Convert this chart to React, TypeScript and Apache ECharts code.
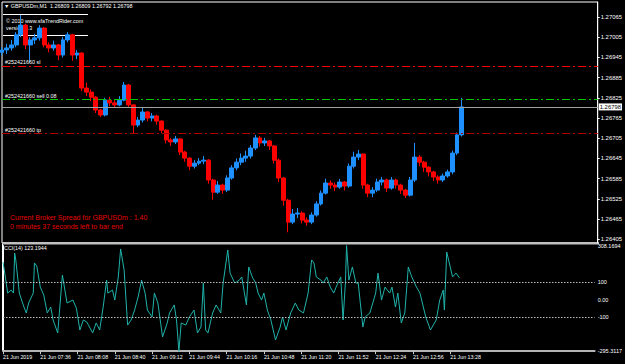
import React, { useEffect, useRef } from "react";
import * as echarts from "echarts";

// ---- data (4-minute bars from 21 Jun 07:04, GBPUSDm) ----
const firstOpen = 1.2696;
const closes = [
  1.26967, 1.26973, 1.26982, 1.27012, 1.27041, 1.26982, 1.26997, 1.27003, 1.27032, 1.26982,
  1.26973, 1.26982, 1.26952, 1.26997, 1.27012, 1.26952, 1.26958, 1.26854, 1.26842, 1.26827,
  1.26789, 1.26774, 1.26818, 1.2681, 1.26804, 1.26818, 1.26863, 1.26804, 1.26744, 1.26759,
  1.26783, 1.26765, 1.26771, 1.26756, 1.26729, 1.267, 1.26694, 1.26703, 1.26664, 1.26646,
  1.26622, 1.26631, 1.26637, 1.2664, 1.26581, 1.26545, 1.26566, 1.26551, 1.26587, 1.26617,
  1.26634, 1.26646, 1.26652, 1.26676, 1.26706, 1.26691, 1.26697, 1.26682, 1.2664, 1.26587,
  1.26521, 1.26456, 1.2648, 1.26483, 1.26462, 1.26456, 1.26477, 1.2651, 1.26542, 1.26572,
  1.26566, 1.2656, 1.26575, 1.26563, 1.26622, 1.26649, 1.26658, 1.26566, 1.26542, 1.26551,
  1.26575, 1.26581, 1.26557, 1.26581, 1.26566, 1.26551, 1.26536, 1.26581, 1.26649, 1.26634,
  1.26619, 1.26605, 1.2659, 1.26581, 1.26593, 1.26605, 1.26661, 1.26715, 1.26798,
];
const highs = [
  1.26975, 1.26985, 1.26997, 1.2702, 1.27071, 1.27045, 1.27005, 1.27015, 1.27041, 1.27035,
  1.2699, 1.26995, 1.26985, 1.27005, 1.2702, 1.27015, 1.26967, 1.2696, 1.2687, 1.2685,
  1.2683, 1.26792, 1.26825, 1.26828, 1.2682, 1.2683, 1.26872, 1.26866, 1.26806, 1.26768,
  1.26795, 1.26786, 1.2678, 1.26775, 1.26758, 1.26732, 1.26706, 1.26712, 1.26705, 1.26668,
  1.26648, 1.2664, 1.26646, 1.26652, 1.26643, 1.26585, 1.26578, 1.2657, 1.26595, 1.26625,
  1.26645, 1.2666, 1.26668, 1.26685, 1.26715, 1.26712, 1.26706, 1.267, 1.26685, 1.26645,
  1.2659, 1.26525, 1.26495, 1.26498, 1.26488, 1.2647, 1.26485, 1.26518, 1.2655, 1.26585,
  1.2658, 1.26574, 1.26584, 1.26578, 1.2663, 1.26665, 1.2667, 1.2666, 1.2657, 1.2656,
  1.26585, 1.2659, 1.26585, 1.2659, 1.26585, 1.2657, 1.26555, 1.2659, 1.26691, 1.26655,
  1.26638, 1.26622, 1.26608, 1.26595, 1.266, 1.26612, 1.26668, 1.26722, 1.26825,
];
const lows = [
  1.2695, 1.26955, 1.26965, 1.26975, 1.27005, 1.2697, 1.2693, 1.26985, 1.26995, 1.26975,
  1.2696, 1.26965, 1.26937, 1.26945, 1.2699, 1.26935, 1.2694, 1.26845, 1.2683, 1.26815,
  1.2678, 1.26768, 1.2677, 1.268, 1.26795, 1.268, 1.26815, 1.26798, 1.2672, 1.26738,
  1.26752, 1.26755, 1.26755, 1.26745, 1.2672, 1.2669, 1.26682, 1.26688, 1.26655, 1.26635,
  1.2661, 1.26615, 1.26625, 1.26628, 1.2657, 1.26522, 1.2654, 1.2654, 1.26545, 1.26582,
  1.2661, 1.26625, 1.26635, 1.26645, 1.2667, 1.2668, 1.26682, 1.2667, 1.2663, 1.26575,
  1.26505, 1.26426, 1.2645, 1.26468, 1.26452, 1.26445, 1.2645, 1.26472, 1.26505, 1.26538,
  1.26555, 1.26548, 1.26555, 1.2655, 1.26558, 1.26615, 1.2664, 1.26555, 1.2653, 1.2653,
  1.26545, 1.26565, 1.26545, 1.26552, 1.26555, 1.2654, 1.26528, 1.26532, 1.26575, 1.26622,
  1.26605, 1.26592, 1.26578, 1.2657, 1.26575, 1.26588, 1.26598, 1.26655, 1.2671,
];
const slotCount = 128; // 4-minute slots 07:04 .. 15:32 (right margin of the chart)
const priceTicks = [
  1.26405, 1.26465, 1.26525, 1.26585, 1.26645, 1.26705, 1.26765, 1.26825, 1.26885, 1.26945,
  1.27005, 1.27065,
];
const timeTickMinutes = [0, 32, 64, 96, 128, 160, 192, 224, 256, 288, 320, 352, 384];
const timeTickLabels = [
  "21 Jun 2019", "21 Jun 07:36", "21 Jun 08:08", "21 Jun 08:40", "21 Jun 09:12",
  "21 Jun 09:44", "21 Jun 10:16", "21 Jun 10:48", "21 Jun 11:20", "21 Jun 11:52",
  "21 Jun 12:24", "21 Jun 12:56", "21 Jun 13:28",
];
// CCI(14): [minutes after 07:04, value]
const cciPoints: [number, number][] = [
  [0, 214], [2, 129], [4, 37], [7, 54], [9, 37], [10, 266], [11, 226], [14, 37], [18, -43], [20, -77],
  [22, -20], [26, 37], [27, 209], [29, 191], [32, 71], [35, 26], [38, -77], [41, -43], [43, -117], [47, -191],
  [51, 140], [55, -20], [60, -3], [63, -49], [66, -174], [69, -117], [72, -129], [77, -191], [80, -134], [83, -174],
  [86, -43], [89, 111], [90, 37], [94, 54], [96, -3], [99, 129], [101, 289], [104, 169], [107, -146], [110, -117],
  [113, -60], [116, 14], [119, 111], [122, 37], [124, -60], [128, -100], [130, 37], [133, -20], [135, -117], [137, -214],
  [141, -134], [143, -77], [147, -31], [149, -117], [151, -295.3117], [153, -134], [157, -146], [160, -100], [164, -60], [167, -191],
  [170, -157], [172, 94], [174, -174], [176, -191], [180, -77], [183, -31], [187, -77], [189, 94], [193, 283], [195, 151],
  [199, 94], [203, 111], [205, 129], [209, -31], [211, 186], [214, 129], [217, 94], [219, 37], [222, -3], [224, 37],
  [227, -60], [230, -117], [234, -231], [238, -157], [240, -100], [243, -174], [247, -77], [251, -20], [254, -60], [258, -77],
  [262, 37], [265, 226], [267, 209], [269, 129], [273, 111], [275, 94], [278, 129], [281, 71], [284, 37], [286, 71],
  [290, 129], [292, -117], [294, 94], [295, 308.1694], [297, 111], [300, 186], [303, 94], [305, 94], [309, -157], [311, -100],
  [315, -77], [320, 37], [322, 151], [325, -3], [328, 71], [332, 37], [334, 71], [337, -43], [339, 37], [342, -134],
  [345, -77], [348, 186], [351, 129], [355, 71], [358, 37], [363, -100], [367, -174], [372, -117], [375, -3], [378, 54],
  [379, -60], [381, 271], [384, 186], [386, 129], [389, 151], [392, 123.1944],
];
const cciTickValues = [308.1694, 100, 0, -100, -295.3117];
const cciTickLabels = ["308.1694", "100", "0.00", "-100", "-295.3117"];
const cciLevels = [100, -100];
const slLevel = 1.2692;
const sellLevel = 1.2682;
const tpLevel = 1.2672;
const bidLevel = 1.26798;

const FONT = '"Liberation Sans", Arial, sans-serif';

export default function App() {
  const ref = useRef<HTMLDivElement>(null);
  useEffect(() => {
    document.body.style.margin = "0";
    document.body.style.background = "#000";
    if (!ref.current) return;
    const chart = echarts.init(ref.current, undefined, { renderer: "svg" });
    const slots = Array.from({ length: slotCount }, (_, i) => String(i * 4));
    const candles = closes.map((c, i) => [i === 0 ? firstOpen : closes[i - 1], c, lows[i], highs[i]]);
    const lastCci = cciPoints[cciPoints.length - 1][1];
    const dashDot = [8, 3, 2, 3];
    const smallLabel = { color: "#ffffff", fontSize: 5.4, fontFamily: FONT };
    const levelLine = (value: number, color: string, text: string) => ({
      type: "line",
      xAxisIndex: 0,
      yAxisIndex: 0,
      data: [],
      silent: true,
      color,
      markLine: {
        silent: true,
        precision: 5,
        symbol: ["none", "none"],
        lineStyle: { color, type: dashDot, width: 1, opacity: 1 },
        label: { ...smallLabel, formatter: text, position: "insideStartTop", distance: [3, 1] },
        data: [{ yAxis: value }],
      },
    });

    chart.setOption({
      animation: false,
      backgroundColor: "#000000",
      grid: [
        { left: 2, top: 2, width: 596, height: 241, show: true, borderColor: "#ffffff", borderWidth: 1 },
        { left: 2, top: 245.6, width: 596, height: 105.6 },
      ],
      xAxis: [
        { type: "category", gridIndex: 0, data: slots, boundaryGap: false, show: false },
        {
          type: "value",
          gridIndex: 1,
          min: 0,
          max: (slotCount - 1) * 4,
          axisLine: { show: true, onZero: false, lineStyle: { color: "#b4b4b4", width: 2 } },
          axisTick: { show: true, customValues: timeTickMinutes, length: 3, lineStyle: { color: "#cccccc" } },
          axisLabel: {
            customValues: timeTickMinutes,
            formatter: (v: number) => {
              const k = timeTickMinutes.indexOf(v);
              return k >= 0 ? timeTickLabels[k] : "";
            },
            color: "#ffffff",
            fontSize: 5.3,
            fontFamily: FONT,
            align: "left",
            margin: 3,
          },
          splitLine: { show: false },
        },
      ],
      yAxis: [
        {
          type: "value",
          gridIndex: 0,
          position: "right",
          min: 1.26394,
          max: 1.271095,
          axisLine: { show: true, lineStyle: { color: "#ffffff" } },
          axisTick: { show: true, customValues: priceTicks, length: 2, lineStyle: { color: "#ffffff" } },
          axisLabel: {
            customValues: priceTicks,
            formatter: (v: number) => v.toFixed(5),
            color: "#ffffff",
            fontSize: 5.9,
            fontFamily: FONT,
            margin: 3,
          },
          splitLine: { show: false },
        },
        {
          type: "value",
          gridIndex: 1,
          position: "right",
          min: -295.3117,
          max: 308.1694,
          axisLine: { show: true, lineStyle: { color: "#ffffff" } },
          axisTick: { show: false },
          axisLabel: {
            customValues: cciTickValues,
            formatter: (v: number) => {
              const k = cciTickValues.findIndex((t) => Math.abs(t - v) < 1e-6);
              return k >= 0 ? cciTickLabels[k] : "";
            },
            color: "#ffffff",
            fontSize: 5.5,
            fontFamily: FONT,
            margin: 3,
          },
          splitLine: { show: false },
        },
      ],
      series: [
        levelLine(slLevel, "#ff0000", "#252421660 sl"),
        levelLine(sellLevel, "#00c800", "#252421660 sell 0.08"),
        levelLine(tpLevel, "#b00000", "#252421660 tp"),
        {
          type: "candlestick",
          xAxisIndex: 0,
          yAxisIndex: 0,
          data: candles,
          barWidth: 4.4,
          z: 3,
          itemStyle: {
            color: "#1e90ff",
            color0: "#ff0000",
            borderColor: "#1e90ff",
            borderColor0: "#ff0000",
            borderWidth: 1,
          },
          markLine: {
            silent: true,
            precision: 5,
            symbol: ["none", "none"],
            lineStyle: { color: "#a0a0a0", type: "solid", width: 1 },
            label: {
              formatter: bidLevel.toFixed(5),
              position: "end",
              distance: 1,
              color: "#000000",
              backgroundColor: "#ffffff",
              padding: [1, 1, 0, 1],
              fontSize: 5.9,
              fontFamily: FONT,
            },
            data: [{ yAxis: bidLevel }],
          },
        },
        {
          type: "line",
          xAxisIndex: 1,
          yAxisIndex: 1,
          data: cciPoints,
          symbol: "none",
          lineStyle: { color: "#20b2aa", width: 1 },
          itemStyle: { color: "#20b2aa" },
          markLine: {
            silent: true,
            precision: 4,
            symbol: ["none", "none"],
            label: { show: false },
            lineStyle: { color: "#bdbdbd", type: [1.5, 1.5], width: 1 },
            data: cciLevels.map((v) => ({ yAxis: v })),
          },
        },
      ],
      graphic: [
        {
          type: "text",
          left: 4,
          top: 3,
          style: { text: "▼ GBPUSDm,M1  1.26809 1.26809 1.26792 1.26798", fill: "#ffffff", fontSize: 5.4, fontFamily: FONT },
        },
        { type: "line", shape: { x1: 3, y1: 14.5, x2: 88, y2: 14.5 }, style: { stroke: "#ffffff", lineWidth: 1 } },
        {
          type: "text",
          left: 6,
          top: 18,
          style: { text: "© 2010 www.sfaTrendRider.com", fill: "#ffffff", fontSize: 5.4, fontFamily: FONT },
        },
        {
          type: "text",
          left: 6,
          top: 25.5,
          style: { text: "version 1.3", fill: "#ffffff", fontSize: 5.4, fontFamily: FONT },
        },
        { type: "line", shape: { x1: 3, y1: 35.5, x2: 88, y2: 35.5 }, style: { stroke: "#ffffff", lineWidth: 1 } },
        {
          type: "text",
          left: 10,
          top: 214,
          style: { text: "Current Broker Spread for GBPUSDm : 1.40", fill: "#e60000", fontSize: 7, fontFamily: FONT },
        },
        {
          type: "text",
          left: 10,
          top: 223,
          style: { text: "0 minutes 37 seconds left to bar end", fill: "#e60000", fontSize: 7, fontFamily: FONT },
        },
        { type: "rect", shape: { x: 2, y: 242, width: 597, height: 2.5 }, style: { fill: "#c0c0c0" } },
        { type: "line", shape: { x1: 2.5, y1: 244, x2: 2.5, y2: 351 }, style: { stroke: "#ffffff", lineWidth: 1 } },
        {
          type: "text",
          left: 4,
          top: 245.5,
          style: { text: `CCI(14) ${lastCci.toFixed(4)}`, fill: "#ffffff", fontSize: 5.4, fontFamily: FONT },
        },
      ],
    });
    return () => chart.dispose();
  }, []);
  return <div ref={ref} style={{ width: 625, height: 364, background: "#000" }} />;
}
